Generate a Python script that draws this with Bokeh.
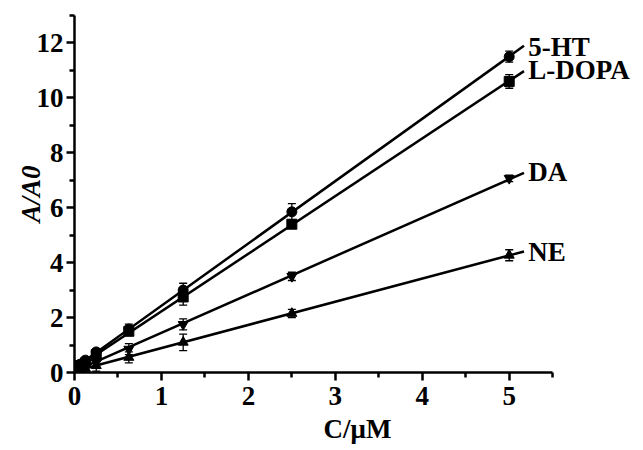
import numpy as np
from bokeh.plotting import figure
from bokeh.models import Whisker, ColumnDataSource, TeeHead, FixedTicker, Range1d, Label
from bokeh.embed import file_html
from bokeh.resources import INLINE

conc = [0.03, 0.0625, 0.125, 0.25, 0.625, 1.25, 2.5, 5.0]
ht5 = [0.2, 0.3, 0.45, 0.75, 1.58, 3.0, 5.85, 11.5]
ht5_err = [0.05, 0.05, 0.08, 0.12, 0.18, 0.25, 0.3, 0.2]
ldopa = [0.18, 0.25, 0.35, 0.65, 1.5, 2.75, 5.4, 10.6]
ldopa_err = [0.05, 0.05, 0.08, 0.1, 0.15, 0.3, 0.1, 0.25]
da = [0.15, 0.2, 0.25, 0.35, 0.85, 1.75, 3.5, 7.07]
da_err = [0.05, 0.05, 0.06, 0.1, 0.2, 0.2, 0.15, 0.12]
ne = [0.1, 0.1, 0.15, 0.25, 0.55, 1.1, 2.15, 4.27]
ne_err = [0.05, 0.05, 0.06, 0.2, 0.2, 0.3, 0.15, 0.2]

names = ["5-HT", "L-DOPA", "DA", "NE"]
series = [ht5, ldopa, da, ne]
errors = [ht5_err, ldopa_err, da_err, ne_err]
markers = ["circle", "square", "inverted_triangle", "triangle"]
label_y = [11.86, 11.0, 7.3, 4.4]
line_end = 5.17
label_x = 5.22

FONT = "Liberation Serif"
FS = "27px"

p = figure(width=640, height=449, output_backend="svg", toolbar_location=None,
           x_range=Range1d(0, 6.51), y_range=Range1d(0, 13),
           min_border_left=74, min_border_right=0, min_border_top=15, min_border_bottom=77)
p.outline_line_color = None
p.grid.visible = False

for name, ys, es, mk, ly in zip(names, series, errors, markers, label_y):
    slope, icpt = np.polyfit(conc, ys, 1)
    xs_line = [0.0, line_end]
    p.line(xs_line, [icpt + slope * x for x in xs_line], line_color="black", line_width=2.5)
    src = ColumnDataSource(dict(x=conc, y=ys,
                                lo=[y - e for y, e in zip(ys, es)],
                                hi=[y + e for y, e in zip(ys, es)]))
    w = Whisker(source=src, base="x", lower="lo", upper="hi", line_color="black", line_width=1.3,
                upper_head=TeeHead(size=8, line_color="black", line_width=1.3),
                lower_head=TeeHead(size=8, line_color="black", line_width=1.3))
    p.add_layout(w)
    p.scatter("x", "y", source=src, marker=mk, size=10, fill_color="black", line_color="black")
    p.add_layout(Label(x=label_x, y=ly, text=name, text_font=FONT, text_font_style="bold",
                       text_font_size=FS, text_baseline="middle", text_align="left",
                       text_color="black"))

for ax in (p.xaxis, p.yaxis):
    ax.axis_line_width = 2.5
    ax.axis_line_color = "black"
    ax.major_tick_line_width = 2.5
    ax.minor_tick_line_width = 2.5
    ax.major_tick_out = 8
    ax.major_tick_in = 0
    ax.minor_tick_out = 5
    ax.minor_tick_in = 0
    ax.major_label_text_font = FONT
    ax.major_label_text_font_style = "bold"
    ax.major_label_text_font_size = FS
    ax.major_label_text_color = "black"
    ax.axis_label_text_font = FONT
    ax.axis_label_text_font_size = FS
    ax.axis_label_text_color = "black"

p.xaxis.bounds = (0, 5.5)
p.xaxis.ticker = FixedTicker(ticks=[0, 1, 2, 3, 4, 5], minor_ticks=[0.5, 1.5, 2.5, 3.5, 4.5, 5.5])
p.yaxis.ticker = FixedTicker(ticks=[0, 2, 4, 6, 8, 10, 12], minor_ticks=[1, 3, 5, 7, 9, 11, 13])
p.xaxis.axis_label = "C/μM"
p.xaxis.axis_label_text_font_style = "bold"
p.xaxis.major_label_standoff = 6
p.xaxis.axis_label_standoff = 6
p.yaxis.axis_label = "A/A0"
p.yaxis.axis_label_text_font_style = "bold italic"
p.yaxis.major_label_standoff = 3
p.yaxis.axis_label_standoff = -12

open("out.html", "w").write(file_html(p, INLINE))
